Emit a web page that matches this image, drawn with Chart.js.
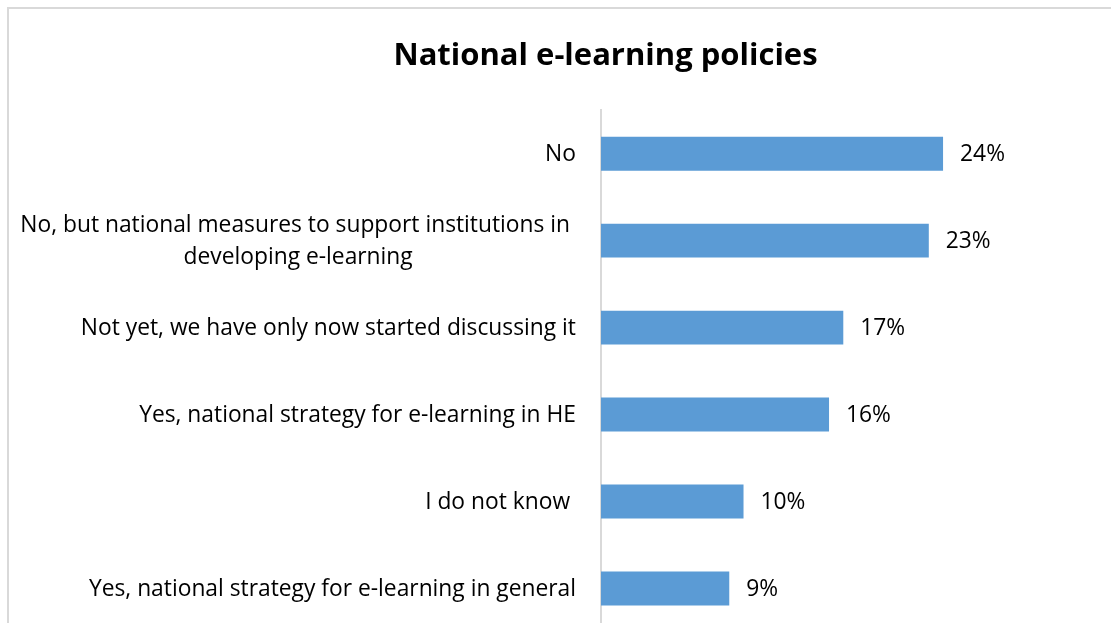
<!DOCTYPE html>
<html>
<head>
<meta charset="utf-8">
<script src="https://cdn.jsdelivr.net/npm/chart.js@4"></script>
<style>
  html, body { margin:0; padding:0; background:#fff; overflow:hidden; width:1111px; height:623px; }
  #frame { position:absolute; left:7px; top:7px; width:1200px; height:700px;
           border-left:2px solid #d9d9d9; border-top:2px solid #d9d9d9; }
  #wrap { position:absolute; left:0; top:0; width:1211px; height:640px; }
</style>
</head>
<body>
<div id="frame"></div>
<div id="wrap"><canvas id="chart" width="1211" height="640"></canvas></div>
<script>
// --- Data ---
const categories = [
  'No',
  ['No, but national measures to support institutions in ', 'developing e-learning'],
  'Not yet, we have only now started discussing it',
  'Yes, national strategy for e-learning in HE',
  'I do not know ',
  'Yes, national strategy for e-learning in general'
];
const values = [24, 23, 17, 16, 10, 9];
const chartTitle = 'National e-learning policies';

const FONT = '"Open Sans", Lato, sans-serif';
const LABEL_SIZE = 22.8;

// --- category labels: right aligned block, lines centered (like Excel) ---
const categoryLabels = {
  id: 'categoryLabels',
  afterDraw(chart) {
    const ctx = chart.ctx, y = chart.scales.y;
    const right = chart.chartArea.left - 25;
    const lineH = 32;
    ctx.save();
    ctx.font = LABEL_SIZE + 'px ' + FONT;
    ctx.fillStyle = '#000';
    ctx.textAlign = 'center';
    ctx.textBaseline = 'middle';
    categories.forEach((lab, i) => {
      const lines = Array.isArray(lab) ? lab : [lab];
      const w = Math.max(...lines.map(l => ctx.measureText(l).width));
      const cx = right - w / 2;
      const cy = y.getPixelForTick(i) + 1;
      lines.forEach((l, k) => {
        ctx.fillText(l, cx, cy + (k - (lines.length - 1) / 2) * lineH);
      });
    });
    ctx.restore();
  }
};

// --- value labels next to bars ---
const valueLabels = {
  id: 'valueLabels',
  afterDatasetsDraw(chart) {
    const ctx = chart.ctx;
    const meta = chart.getDatasetMeta(0);
    ctx.save();
    ctx.font = LABEL_SIZE + 'px ' + FONT;
    ctx.fillStyle = '#000';
    ctx.textAlign = 'left';
    ctx.textBaseline = 'middle';
    meta.data.forEach((bar, i) => {
      ctx.fillText(values[i] + '%', bar.x + 17, bar.y + 1);
    });
    ctx.restore();
  }
};

new Chart(document.getElementById('chart'), {
  type: 'bar',
  data: {
    labels: categories,
    datasets: [{
      data: values,
      backgroundColor: '#5b9bd5',
      borderWidth: 0,
      categoryPercentage: 1,
      barPercentage: 0.39
    }]
  },
  options: {
    indexAxis: 'y',
    responsive: false,
    animation: false,
    layout: { padding: { left: 0, right: 0, top: 0, bottom: 8 } },
    plugins: {
      legend: { display: false },
      tooltip: { enabled: false },
      title: {
        display: true,
        text: chartTitle,
        color: '#000',
        font: { family: FONT, size: 31, weight: 'bold' },
        padding: { top: 38, bottom: 35 }
      }
    },
    scales: {
      x: { display: false, min: 0, max: 42.8 },
      y: {
        grid: { display: false },
        border: { display: true, color: '#d9d9d9', width: 2 },
        ticks: { display: false },
        afterFit(scale) { scale.width = 601; }
      }
    }
  },
  plugins: [categoryLabels, valueLabels]
});
</script>
</body>
</html>
